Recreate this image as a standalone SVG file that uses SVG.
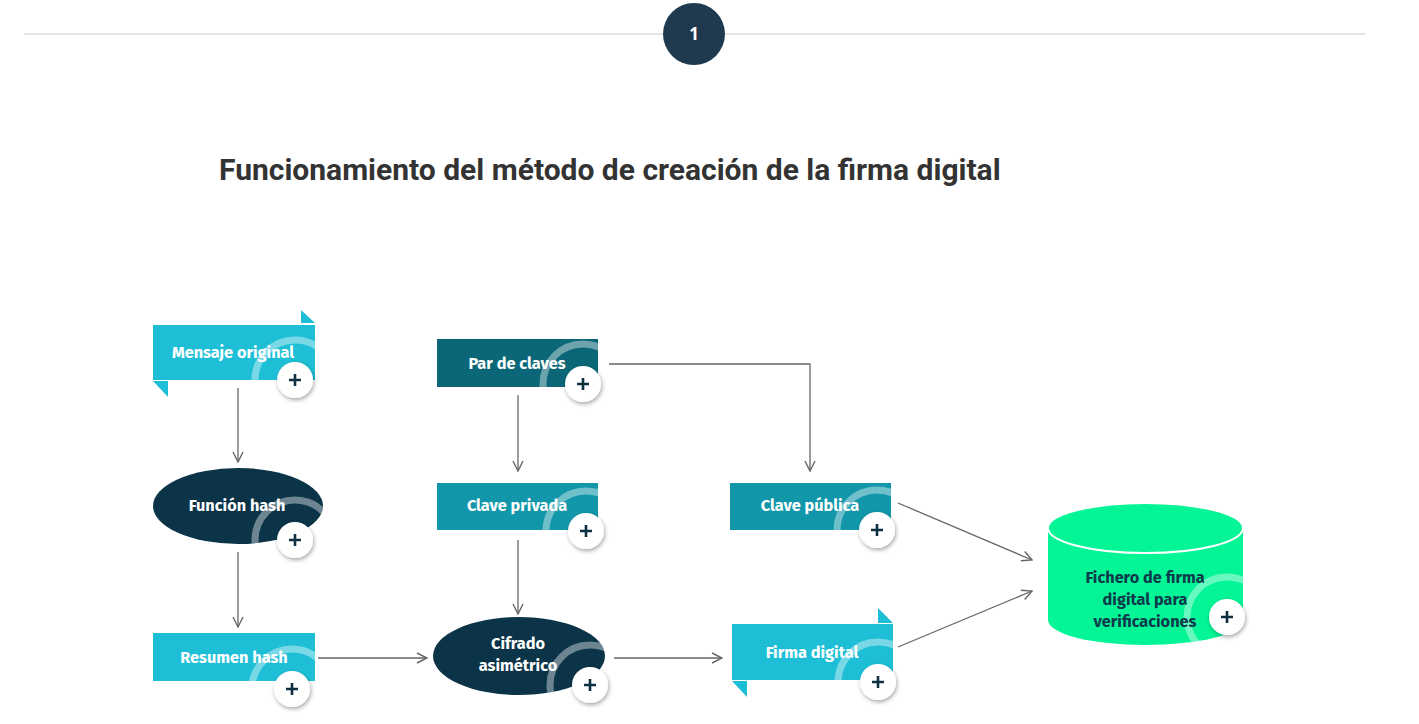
<svg xmlns="http://www.w3.org/2000/svg" width="1419" height="724" viewBox="0 0 1419 724">
<defs>
<style>
.lbl{font-family:"Fira Sans","Noto Sans","Open Sans",sans-serif;font-weight:700;font-size:16.3px;fill:#fff;text-anchor:middle}
.dlbl{font-family:"Fira Sans","Noto Sans","Open Sans",sans-serif;font-weight:700;font-size:16.3px;fill:#0d3b4c;text-anchor:middle}
.conn{fill:none;stroke:#666;stroke-width:1.3}
.ring{fill:none;stroke:#fff;stroke-opacity:0.4;stroke-width:7}
.pc{fill:#fff;filter:url(#sh)}
.pl{stroke:#0d2f40;stroke-width:2.6;stroke-linecap:butt}
.c1{fill:#1ebfd6}
.c2{fill:#0b6777}
.c3{fill:#1197a9}
.c4{fill:#0b3448}
</style>
<filter id="sh" x="-50%" y="-50%" width="200%" height="200%">
<feDropShadow dx="1" dy="2" stdDeviation="2" flood-color="#000" flood-opacity="0.35"/>
</filter>
<marker id="ar" viewBox="0 0 12 12" refX="11" refY="6" markerWidth="12" markerHeight="12" markerUnits="userSpaceOnUse" orient="auto">
<path d="M1,1 L11,6 L1,11" fill="none" stroke="#666" stroke-width="1.4"/>
</marker>
<clipPath id="k1"><rect x="153" y="325" width="162" height="55"/></clipPath>
<clipPath id="k2"><rect x="437" y="339" width="161" height="48"/></clipPath>
<clipPath id="k3"><ellipse cx="238" cy="506" rx="85" ry="38"/></clipPath>
<clipPath id="k4"><rect x="437" y="483" width="161" height="47"/></clipPath>
<clipPath id="k5"><rect x="730" y="483" width="161" height="47"/></clipPath>
<clipPath id="k6"><rect x="153" y="633" width="162" height="48"/></clipPath>
<clipPath id="k7"><ellipse cx="519" cy="656" rx="86" ry="39"/></clipPath>
<clipPath id="k8"><rect x="732" y="624" width="161" height="56"/></clipPath>
<clipPath id="k9"><path d="M1048,528 L1048,620 A97.5,25 0 0 0 1243,620 L1243,528 Z"/></clipPath>
</defs>
<rect width="1419" height="724" fill="#fff"/>
<g id="header">
<line x1="24" y1="34" x2="1365" y2="34" stroke="#c8c8c8" stroke-width="1"/>
<circle cx="694" cy="34" r="31" fill="#1f3a4e"/>
<text x="694" y="40" font-family="'Noto Sans','Open Sans',sans-serif" font-weight="700" font-size="17" fill="#fff" text-anchor="middle">1</text>
</g>
<text id="title" x="219" y="180" font-family="Roboto,'Liberation Sans',sans-serif" font-weight="700" font-size="30" fill="#333">Funcionamiento del método de creación de la firma digital</text>
<g id="connectors">
<line class="conn" x1="238" y1="388" x2="238" y2="462" marker-end="url(#ar)"/>
<line class="conn" x1="238" y1="552" x2="238" y2="627" marker-end="url(#ar)"/>
<line class="conn" x1="318" y1="658" x2="427" y2="658" marker-end="url(#ar)"/>
<line class="conn" x1="518" y1="395" x2="518" y2="471" marker-end="url(#ar)"/>
<line class="conn" x1="518" y1="540" x2="518" y2="614" marker-end="url(#ar)"/>
<polyline class="conn" points="609,364 810,364 810,471" marker-end="url(#ar)"/>
<line class="conn" x1="614" y1="658" x2="722" y2="658" marker-end="url(#ar)"/>
<line class="conn" x1="898" y1="503" x2="1032" y2="560" marker-end="url(#ar)"/>
<line class="conn" x1="898" y1="647" x2="1032" y2="591" marker-end="url(#ar)"/>
</g>
<g id="n-mensaje">
<polygon class="c1" points="301,310 315,323 301,323"/>
<polygon class="c1" points="153,381 168,381 168,397"/>
<rect class="c1" x="153" y="325" width="162" height="55"/>
<circle class="ring" cx="295" cy="380" r="40" clip-path="url(#k1)"/>
<text class="lbl" x="233" y="358">Mensaje original</text>
<circle class="pc" cx="295" cy="380" r="18"/>
<path class="pl" d="M289,380 H301 M295,374 V386"/>
</g>
<g id="n-par">
<rect class="c2" x="437" y="339" width="161" height="48"/>
<circle class="ring" cx="583" cy="384" r="40" clip-path="url(#k2)"/>
<text class="lbl" x="517" y="369">Par de claves</text>
<circle class="pc" cx="583" cy="384" r="18"/>
<path class="pl" d="M577,384 H589 M583,378 V390"/>
</g>
<g id="n-funcion">
<ellipse class="c4" cx="238" cy="506" rx="85" ry="38"/>
<circle class="ring" cx="295" cy="540" r="40" clip-path="url(#k3)"/>
<text class="lbl" x="237" y="511">Función hash</text>
<circle class="pc" cx="295" cy="540" r="18"/>
<path class="pl" d="M289,540 H301 M295,534 V546"/>
</g>
<g id="n-privada">
<rect class="c3" x="437" y="483" width="161" height="47"/>
<circle class="ring" cx="586" cy="531" r="40" clip-path="url(#k4)"/>
<text class="lbl" x="517" y="511">Clave privada</text>
<circle class="pc" cx="586" cy="531" r="18"/>
<path class="pl" d="M580,531 H592 M586,525 V537"/>
</g>
<g id="n-publica">
<rect class="c3" x="730" y="483" width="161" height="47"/>
<circle class="ring" cx="877" cy="530" r="40" clip-path="url(#k5)"/>
<text class="lbl" x="810" y="511">Clave pública</text>
<circle class="pc" cx="877" cy="530" r="18"/>
<path class="pl" d="M871,530 H883 M877,524 V536"/>
</g>
<g id="n-resumen">
<rect class="c1" x="153" y="633" width="162" height="48"/>
<circle class="ring" cx="292" cy="689" r="40" clip-path="url(#k6)"/>
<text class="lbl" x="234" y="663">Resumen hash</text>
<circle class="pc" cx="292" cy="689" r="18"/>
<path class="pl" d="M286,689 H298 M292,683 V695"/>
</g>
<g id="n-cifrado">
<ellipse class="c4" cx="519" cy="656" rx="86" ry="39"/>
<circle class="ring" cx="590" cy="685" r="40" clip-path="url(#k7)"/>
<text class="lbl" x="518" y="649">Cifrado</text>
<text class="lbl" x="518" y="671">asimétrico</text>
<circle class="pc" cx="590" cy="685" r="18"/>
<path class="pl" d="M584,685 H596 M590,679 V691"/>
</g>
<g id="n-firma">
<polygon class="c1" points="878,608 893,623 878,623"/>
<polygon class="c1" points="732,681 747,681 747,697"/>
<rect class="c1" x="732" y="624" width="161" height="56"/>
<circle class="ring" cx="878" cy="682" r="40" clip-path="url(#k8)"/>
<text class="lbl" x="812" y="658">Firma digital</text>
<circle class="pc" cx="878" cy="682" r="18"/>
<path class="pl" d="M872,682 H884 M878,676 V688"/>
</g>
<g id="n-fichero">
<path d="M1048,528 L1048,620 A97.5,25 0 0 0 1243,620 L1243,528 Z" fill="#03f596"/>
<ellipse cx="1145.5" cy="528" rx="97.5" ry="25" fill="#03f596" stroke="#fff" stroke-width="2"/>
<circle class="ring" cx="1227" cy="617" r="40" clip-path="url(#k9)"/>
<text class="dlbl" x="1145" y="583">Fichero de firma</text>
<text class="dlbl" x="1145" y="605">digital para</text>
<text class="dlbl" x="1145" y="627">verificaciones</text>
<circle class="pc" cx="1227" cy="617" r="18"/>
<path class="pl" d="M1221,617 H1233 M1227,611 V623"/>
</g>
</svg>
